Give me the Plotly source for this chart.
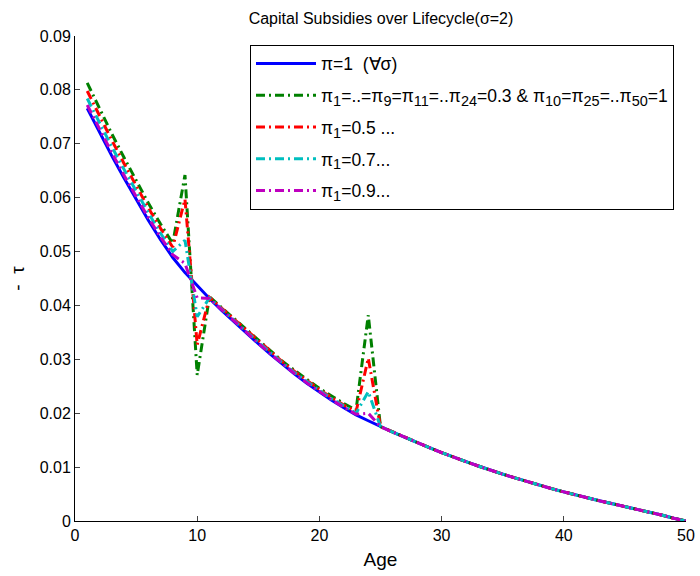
import plotly.graph_objects as go

ages = list(range(1, 51))

tau_pi1 = [0.0766, 0.0721, 0.0678, 0.0637, 0.0597, 0.0558, 0.0522, 0.0489, 0.0461, 0.0436,
           0.0413, 0.0391, 0.0370, 0.0349, 0.0329, 0.0309, 0.0290, 0.0272, 0.0255, 0.0239,
           0.0224, 0.0210, 0.0197, 0.0186, 0.0175, 0.0165, 0.0155, 0.0145, 0.0136, 0.0127,
           0.0118, 0.0110, 0.0102, 0.0094, 0.0087, 0.0080, 0.0073, 0.0066, 0.0060, 0.0054,
           0.0048, 0.0043, 0.0037, 0.0032, 0.0027, 0.0022, 0.0016, 0.0011, 0.0005, 0.0000]

tail = tau_pi1[25:]

tau_03 = [0.0813, 0.0765, 0.0719, 0.0675, 0.0632, 0.0590, 0.0551, 0.0515, 0.0642, 0.0271,
          0.0416, 0.0396, 0.0376, 0.0355, 0.0335, 0.0315, 0.0296, 0.0279, 0.0262, 0.0246,
          0.0232, 0.0218, 0.0206, 0.0382, 0.0175] + tail

tau_05 = [0.0798, 0.0752, 0.0707, 0.0664, 0.0622, 0.0581, 0.0543, 0.0508, 0.0597, 0.0327,
          0.0415, 0.0395, 0.0375, 0.0354, 0.0334, 0.0314, 0.0295, 0.0277, 0.0260, 0.0244,
          0.0229, 0.0215, 0.0203, 0.0302, 0.0175] + tail

tau_07 = [0.0784, 0.0739, 0.0695, 0.0653, 0.0612, 0.0572, 0.0534, 0.0500, 0.0521, 0.0379,
          0.0414, 0.0393, 0.0373, 0.0352, 0.0332, 0.0312, 0.0293, 0.0275, 0.0258, 0.0242,
          0.0227, 0.0213, 0.0200, 0.0240, 0.0175] + tail

tau_09 = [0.0772, 0.0727, 0.0684, 0.0642, 0.0602, 0.0563, 0.0527, 0.0494, 0.0478, 0.0414,
          0.0413, 0.0392, 0.0371, 0.0350, 0.0330, 0.0310, 0.0291, 0.0273, 0.0256, 0.0240,
          0.0225, 0.0211, 0.0198, 0.0200, 0.0175] + tail


def sub(s):
    return f'<sub><span style="font-size:14.5px">{s}</span></sub>'


names = [
    "π=1  (∀σ)",
    f"π{sub('1')}=..=π{sub('9')}=π{sub('11')}=..π{sub('24')}=0.3 &amp; π{sub('10')}=π{sub('25')}=..π{sub('50')}=1",
    f"π{sub('1')}=0.5 ...",
    f"π{sub('1')}=0.7...",
    f"π{sub('1')}=0.9...",
]
series = [tau_pi1, tau_03, tau_05, tau_07, tau_09]
colors = ["#0000FF", "#008000", "#FF0000", "#00BFBF", "#BF00BF"]
dashes = ["solid", "9px,4px,2px,4px", "9px,4px,2px,4px", "9px,4px,2px,4px", "9px,4px,2px,4px"]

fig = go.Figure()
for i, (nm, ys, c, d) in enumerate(zip(names, series, colors, dashes)):
    fig.add_trace(go.Scatter(x=ages, y=ys, mode="lines", name=nm,
                             legendgroup=f"g{i}",
                             line=dict(color=c, width=3, dash=d)))

font_family = "Liberation Sans, Arial, sans-serif"
fig.update_layout(
    width=700, height=576,
    margin=dict(l=75, r=14, t=36, b=55),
    plot_bgcolor="white", paper_bgcolor="white",
    font=dict(family=font_family, size=16, color="black"),
    title=dict(text="Capital Subsidies over Lifecycle(σ=2)", x=(75 + 306) / 700, xanchor="center",
               y=1 - 18 / 576, yanchor="middle", font=dict(size=16)),
    showlegend=True,
    legend=dict(x=(250 - 75) / 611, y=0.982, xanchor="left", yanchor="top",
                bordercolor="black", borderwidth=1, bgcolor="white",
                itemwidth=60, tracegroupgap=6, traceorder="grouped",
                font=dict(size=17.5)),
    xaxis=dict(range=[0, 50], tickvals=[0, 10, 20, 30, 40, 50], ticks="inside", ticklen=5,
               showline=True, linecolor="black", linewidth=1, showgrid=False, zeroline=False,
               automargin=False,
               title=dict(text="Age", standoff=9), tickfont=dict(size=16)),
    yaxis=dict(range=[0, 0.09], tickvals=[0, 0.01, 0.02, 0.03, 0.04, 0.05, 0.06, 0.07, 0.08, 0.09],
               ticktext=["0", "0.01", "0.02", "0.03", "0.04", "0.05", "0.06", "0.07", "0.08", "0.09"],
               ticks="inside", ticklen=5, automargin=False,
               showline=True, linecolor="black", linewidth=1, showgrid=False, zeroline=False,
               title=dict(text="-  τ", standoff=10), tickfont=dict(size=16)),
)

fig.write_html("out.html")
